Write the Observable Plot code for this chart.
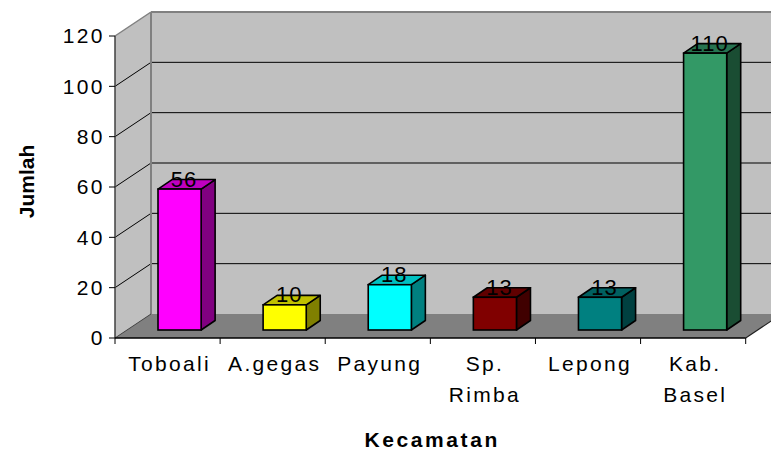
<!DOCTYPE html>
<html>
<head>
<meta charset="utf-8">
<script src="https://cdn.jsdelivr.net/npm/d3@7"></script>
<script src="https://cdn.jsdelivr.net/npm/@observablehq/plot@0.6"></script>
<style>
html, body { margin: 0; padding: 0; background: #fff; overflow: hidden; }
</style>
</head>
<body>
<div id="chart"></div>
<script>
// ---- data ----
const categories = ["Toboali", "A.gegas", "Payung", "Sp.\nRimba", "Lepong", "Kab.\nBasel"];
const values = [56, 10, 18, 13, 13, 110];
const yTicks = [0, 20, 40, 60, 80, 100, 120];
const frontColors = ["#ff00ff", "#ffff00", "#00ffff", "#800000", "#008080", "#339966"];
const topColors   = ["#c000c0", "#c0c000", "#00c0c0", "#600000", "#006060", "#267350"];
const sideColors  = ["#800080", "#808000", "#008080", "#400000", "#004040", "#1a4d33"];
const xTitle = "Kecamatan";
const yTitle = "Jumlah";

const data = categories.map((c, i) => ({
  cat: c,
  value: values[i],
  front: frontColors[i],
  top: topColors[i],
  side: sideColors[i],
  line1: c.split("\n")[0],
  line2: c.split("\n")[1] || ""
}));

// ---- 3D look (pixel offsets) ----
const WALL_DX = 36, WALL_DY = -24;
const BAR_DX = 12, BAR_DY = -8;
const DEPTH_DX = 14, DEPTH_DY = -9.5;
const BAR_INSET = 31;

function bandwidthOf(x) {
  return typeof x.bandwidth === "function" ? x.bandwidth() : x.bandwidth;
}
function pathOf(pts) {
  return "M" + pts.map(p => p[0] + "," + p[1]).join("L") + "Z";
}

function walls(index, scales, vals, dims) {
  const {x, y} = scales;
  const bw = bandwidthOf(x);
  const xl = x(categories[0]);
  const xr = x(categories[categories.length - 1]) + bw;
  const yb = y(0), yt = y(yTicks[yTicks.length - 1]);
  const W = dims.width;
  const g = d3.create("svg:g");
  const poly = (pts, fill) => g.append("path").attr("d", pathOf(pts)).attr("fill", fill);
  const line = (x1, y1, x2, y2, stroke, sw) =>
    g.append("line").attr("x1", x1).attr("y1", y1).attr("x2", x2).attr("y2", y2)
      .attr("stroke", stroke).attr("stroke-width", sw);
  poly([[xl + WALL_DX, yt + WALL_DY], [W, yt + WALL_DY], [W, yb + WALL_DY], [xl + WALL_DX, yb + WALL_DY]], "#c0c0c0");
  poly([[xl, yb], [xl, yt], [xl + WALL_DX, yt + WALL_DY], [xl + WALL_DX, yb + WALL_DY]], "#c0c0c0");
  poly([[xl, yb], [xr, yb], [xr + WALL_DX, yb + WALL_DY], [xl + WALL_DX, yb + WALL_DY]], "#808080");
  for (const t of yTicks.slice(1, -1)) {
    line(xl, y(t), xl + WALL_DX, y(t) + WALL_DY, "#000", 1);
    line(xl + WALL_DX, y(t) + WALL_DY, W, y(t) + WALL_DY, "#000", 1);
  }
  line(xl, yt, xl + WALL_DX, yt + WALL_DY, "#808080", 1.5);
  line(xl + WALL_DX, yt + WALL_DY, W, yt + WALL_DY, "#808080", 2);
  line(xl + WALL_DX, yt + WALL_DY, xl + WALL_DX, yb + WALL_DY, "#808080", 2);
  line(xl, yb, xl + WALL_DX, yb + WALL_DY, "#404040", 1);
  line(xr, yb, xr + WALL_DX, yb + WALL_DY, "#202020", 1.2);
  line(xl, yt, xl, yb, "#404040", 1.5);
  line(xl, yb, xr, yb, "#000", 1.6);
  for (const t of yTicks) line(xl - 6, y(t), xl, y(t), "#000", 1);
  for (let i = 0; i <= categories.length; i++) {
    const xe = i < categories.length ? x(categories[i]) : xr;
    line(xe, yb, xe, yb + 6, "#000", 1);
  }
  return g.node();
}

function barSides(index, scales) {
  const {x, y} = scales;
  const bw = bandwidthOf(x);
  const g = d3.create("svg:g");
  for (const d of data) {
    const xL = x(d.cat) + BAR_INSET + BAR_DX;
    const xR = x(d.cat) + bw - BAR_INSET + BAR_DX;
    const yB = y(0) + BAR_DY;
    const yT = y(d.value) + BAR_DY;
    g.append("path")
      .attr("d", pathOf([[xR, yB], [xR, yT], [xR + DEPTH_DX, yT + DEPTH_DY], [xR + DEPTH_DX, yB + DEPTH_DY]]))
      .attr("fill", d.side).attr("stroke", "#000").attr("stroke-width", 1.6).attr("stroke-linejoin", "round");
    g.append("path")
      .attr("d", pathOf([[xL, yT], [xR, yT], [xR + DEPTH_DX, yT + DEPTH_DY], [xL + DEPTH_DX, yT + DEPTH_DY]]))
      .attr("fill", d.top).attr("stroke", "#000").attr("stroke-width", 1.6).attr("stroke-linejoin", "round");
  }
  return g.node();
}

const font = "'Liberation Sans', Arial, Helvetica, sans-serif";

const chart = Plot.plot({
  width: 771,
  height: 450,
  marginLeft: 115,
  marginRight: 25.3,
  marginTop: 36,
  marginBottom: 112,
  style: {fontFamily: font, background: "#fff", overflow: "hidden"},
  x: {type: "band", domain: categories, padding: 0, round: false, axis: null},
  y: {domain: [0, 120], axis: null},
  color: {type: "identity"},
  marks: [
    walls,
    barSides,
    Plot.barY(data, {
      x: "cat", y: "value", fill: "front", stroke: "#000", strokeWidth: 1.6,
      insetLeft: BAR_INSET, insetRight: BAR_INSET, dx: BAR_DX, dy: BAR_DY
    }),
    Plot.text(data, {
      x: "cat", y: "value", text: d => String(d.value), dx: 16, dy: -11,
      lineAnchor: "bottom", fontSize: 22, fill: "#000"
    }),
    Plot.text(yTicks, {
      y: d => d, text: d => String(d), frameAnchor: "left", textAnchor: "end",
      dx: -10.7, fontSize: 21, fill: "#000"
    }),
    Plot.text(data, {
      x: "cat", text: "line1", frameAnchor: "bottom", textAnchor: "middle", dy: 32.7, dx: 1.5,
      lineAnchor: "bottom", fontSize: 21, fill: "#000"
    }),
    Plot.text(data.filter(d => d.line2), {
      x: "cat", text: "line2", frameAnchor: "bottom", textAnchor: "middle", dy: 63.7, dx: 1.5,
      lineAnchor: "bottom", fontSize: 21, fill: "#000"
    }),
    Plot.text([xTitle], {
      text: d => d, frameAnchor: "bottom", textAnchor: "middle", dy: 108, dx: 1.3,
      lineAnchor: "bottom", fontSize: 21, fontWeight: "bold", fill: "#000"
    }),
    Plot.text([yTitle], {
      text: d => d, frameAnchor: "left", textAnchor: "middle", dx: -82, dy: -6, rotate: -90,
      lineAnchor: "bottom", fontSize: 21, fontWeight: "bold", fill: "#000"
    })
  ]
});

// letter spacing (Excel-style wide text), chosen by the text group's font size / weight
d3.select(chart).selectAll("text").each(function() {
  const el = this;
  const txt = el.textContent;
  let g = el.parentNode;
  while (g && g.getAttribute && !g.getAttribute("font-size")) g = g.parentNode;
  const fs = g && g.getAttribute ? g.getAttribute("font-size") : null;
  let ls = 0;
  if (txt === xTitle) ls = 2.6;
  else if (txt === yTitle) ls = 0;
  else if (fs === "22") ls = 1;
  else if (fs === "21") ls = 2.3;
  el.style.letterSpacing = ls + "px";
});

document.getElementById("chart").appendChild(chart);
</script>
</body>
</html>
